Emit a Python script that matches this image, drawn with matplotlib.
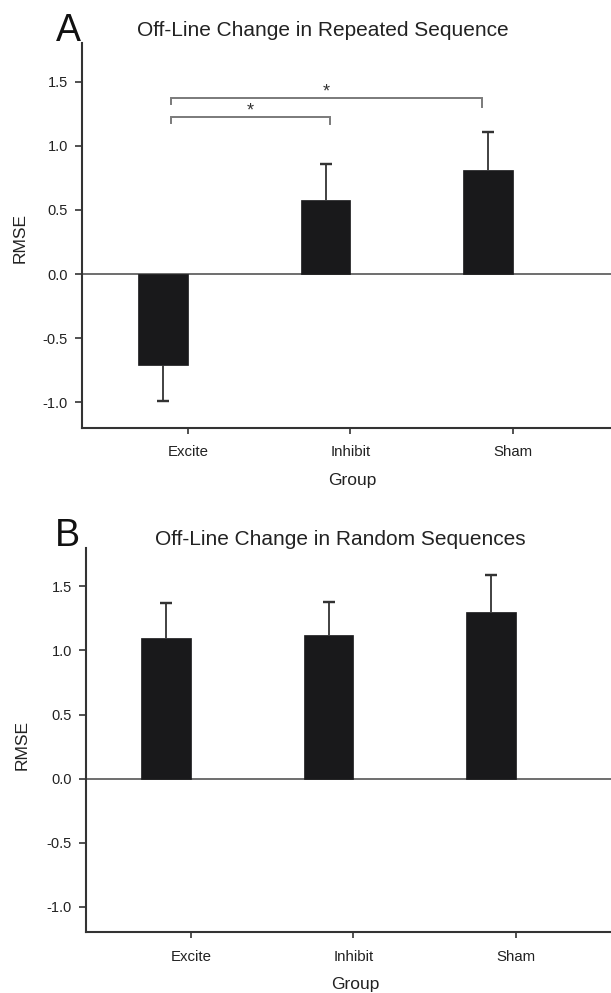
import numpy as np
import matplotlib
matplotlib.use("Agg")
import matplotlib.pyplot as plt

plt.rcParams['font.family'] = ['Liberation Sans', 'DejaVu Sans']

# ---- data ----
groups = ["Excite", "Inhibit", "Sham"]
repeated_means = [-0.71, 0.58, 0.81]
repeated_sem = [0.28, 0.28, 0.30]
random_means = [1.10, 1.12, 1.30]
random_sem = [0.27, 0.26, 0.29]
yticks = [-1.0, -0.5, 0.0, 0.5, 1.0, 1.5]
ytick_labels = ["-1.0", "-0.5", "0.0", "0.5", "1.0", "1.5"]
# significance brackets (group index pairs, height in RMSE)
bracket_pairs = [(0, 1), (0, 2)]
bracket_heights = [1.22, 1.37]
bracket_label = "*"

W, H = 611, 993
fig = plt.figure(figsize=(W / 100, H / 100), dpi=100)
fig.patch.set_facecolor("white")

txt = "#222222"
dark = "#333333"
bar_col = "#19191b"
bw = 0.305


def px(x, y):
    return x / W, 1 - y / H


def panel(ax, means, sem, xlim):
    x = np.arange(len(groups))
    means = np.asarray(means)
    sem = np.asarray(sem)
    ends = means + np.sign(means) * sem
    xc = x - bw / 2
    ax.axhline(0, color="#555555", lw=1.2, zorder=1)
    ax.bar(x, means, width=-bw, align="edge", color=bar_col,
           edgecolor=bar_col, lw=0.5, zorder=2)
    # one-sided error bars: stem from bar end, cap at far end only
    ax.vlines(xc, means, ends, color=dark, lw=1.3, zorder=3)
    ax.errorbar(xc, ends, yerr=np.zeros_like(ends), fmt="none",
                ecolor=dark, elinewidth=1.3, capsize=4.3, capthick=1.6, zorder=3)
    ax.set_xlim(*xlim)
    ax.set_ylim(-1.2, 1.8)
    ax.set_xticks(x)
    ax.set_xticklabels(groups)
    ax.set_yticks(yticks)
    ax.set_yticklabels(ytick_labels)
    for s in ["top", "right"]:
        ax.spines[s].set_visible(False)
    for s in ["left", "bottom"]:
        ax.spines[s].set_color(dark)
        ax.spines[s].set_linewidth(1.5)
    ax.tick_params(axis="y", length=5, width=1.2, color=dark, pad=5,
                   labelsize=10.5, labelcolor=txt)
    ax.tick_params(axis="x", length=4, width=1.2, color=dark, pad=8.5,
                   labelsize=10.8, labelcolor=txt)
    ax.set_facecolor("white")


# Panel A
axA = fig.add_axes([82 / W, 1 - 428 / H, (W - 82) / W, (428 - 43) / H])
panel(axA, repeated_means, repeated_sem, (-0.652, 2.603))

# brackets
left_off = [-0.105, -0.105]
right_off = [-0.125, -0.19]
drop_l = [0.045, 0.045]
drop_r = [0.05, 0.07]
for (i, j), h, lo, ro, dl, dr in zip(bracket_pairs, bracket_heights,
                                     left_off, right_off, drop_l, drop_r):
    x0, x1 = i + lo, j + ro
    axA.plot([x0, x0, x1, x1], [h - dl, h, h, h - dr], color="#7a7a7a",
             lw=1.4, zorder=3, solid_joinstyle="miter")
    axA.text((x0 + x1) / 2, h + 0.015, bracket_label, ha="center",
             va="baseline", fontsize=13, color="#333333")

# Panel B
axB = fig.add_axes([85.7 / W, 1 - 932.3 / H, (W - 85.7) / W, (932.3 - 548) / H])
panel(axB, random_means, random_sem, (-0.648, 2.585))

# titles, letters, labels
fig.text(*px(323, 36), "Off-Line Change in Repeated Sequence", ha="center",
         va="baseline", fontsize=15, color=txt)
fig.text(*px(340, 545), "Off-Line Change in Random Sequences", ha="center",
         va="baseline", fontsize=15, color=txt)
fig.text(*px(56, 41), "A", ha="left", va="baseline", fontsize=27, color="#111111")
fig.text(*px(55, 546), "B", ha="left", va="baseline", fontsize=27, color="#111111")
fig.text(*px(20, 238), "RMSE", ha="center", va="center", rotation=90,
         fontsize=12.5, color=txt)
fig.text(*px(22, 745), "RMSE", ha="center", va="center", rotation=90,
         fontsize=12.5, color=txt)
fig.text(*px(352, 481), "Group", ha="center", va="center", fontsize=12.5, color=txt)
fig.text(*px(355, 985), "Group", ha="center", va="center", fontsize=12.5, color=txt)

fig.savefig("out.png", dpi=100, facecolor="white")
